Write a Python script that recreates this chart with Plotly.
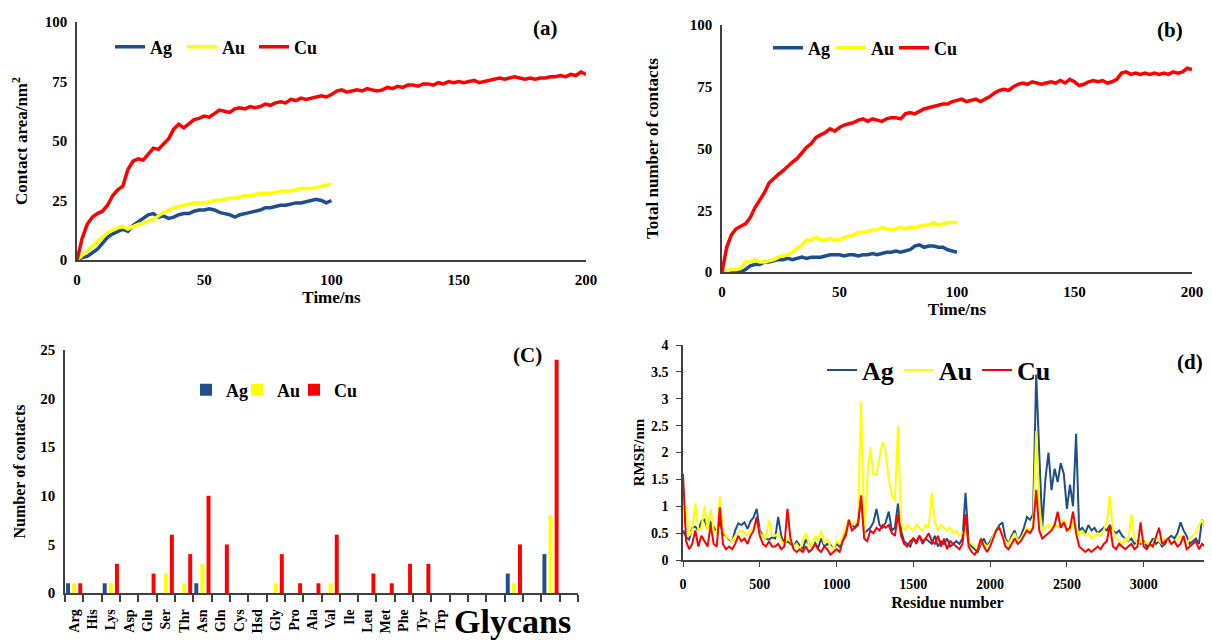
import plotly.graph_objects as go

# ---------------- data ----------------
metals = ["Ag", "Au", "Cu"]
colors = {"Ag": "#1f4e8c", "Au": "#ffff00", "Cu": "#ff0000"}

# (a) contact area / nm^2
t_100 = list(range(0, 101, 2))
t_200 = list(range(0, 201, 2))
area_ag = [0, 1, 1.5, 3, 4.5, 7, 9.5, 11, 12, 13,
           12, 14.5, 16, 17.5, 19, 19.5, 18, 18.5, 17.5, 18,
           19, 19.5, 19.5, 20.5, 21, 21, 21.5, 21, 20, 19.5,
           19, 18, 19, 19.5, 20, 20.5, 21, 22, 22, 22.5,
           23, 23, 23.5, 24, 24, 24.5, 25, 25.5, 25, 24,
           25]
area_au = [0, 2, 4, 5.5, 7.5, 10, 11.5, 12.5, 13.5, 14,
           13, 14, 15, 15.5, 16.5, 17, 18.5, 20, 21, 22,
           22.5, 23, 23.5, 24, 24, 24, 24.5, 25, 25, 25.5,
           26, 26, 26.5, 27, 27, 27.5, 28, 28, 28, 28.5,
           29, 29, 29, 29.5, 30, 30, 30, 30.5, 31, 31.5,
           32]
area_cu = [0, 9, 15, 18, 19.5, 20.5, 23, 27, 29.5, 31,
           38, 41.5, 42.5, 42, 44.5, 47, 46.5, 48.5, 51, 55,
           57, 55.5, 57.5, 59, 59.5, 60.5, 60, 61.5, 63, 62.5,
           62, 63.5, 64, 63.5, 64.5, 64, 64.5, 65.5, 65, 66,
           66.5, 66, 67.5, 67, 68, 67.5, 68, 68.5, 69, 68.5,
           69.5, 71, 71.5, 70.5, 71, 71.5, 71, 72, 71.5, 71,
           71.5, 72.5, 72, 73, 72.5, 73.5, 73.5, 73, 74, 74,
           73.5, 74.5, 74, 75, 74.5, 75, 74.5, 75, 75.5, 74.5,
           75, 75.5, 76, 76.5, 76, 76.5, 77, 76.5, 76, 76.5,
           76, 76.5, 76.5, 77, 77, 77.5, 77, 78, 77.5, 79,
           78]

# (b) total number of contacts
cont_ag = [0, 0, 0, 0, 0, 1, 2.5, 3, 3, 4,
           4, 4.5, 5, 5, 5.5, 5, 5.5, 6, 5.5, 6,
           6, 6, 6.5, 7, 7, 7, 6.5, 7, 7, 6.5,
           7, 7, 7.5, 7, 7.5, 8, 8, 8.5, 8, 8.5,
           9, 10.5, 11, 10, 10.5, 10.5, 10, 10, 9, 8.5,
           8]
cont_au = [0, 0.5, 1, 1, 1.5, 4, 4, 5, 4, 4,
           4.5, 5, 6, 6.5, 7, 8, 9.5, 11, 13, 13,
           14, 13, 13, 13.5, 13, 13, 14, 14.5, 15, 16,
           16, 16.5, 17, 17, 18, 17.5, 17, 17.5, 18, 17.5,
           18, 18, 18.5, 19, 19, 20, 19, 19.5, 20, 20,
           20]
cont_cu = [0, 10, 15, 17.5, 18.5, 19.5, 22, 26, 29, 32,
           36, 38, 39.5, 41, 43, 44.5, 46, 48.5, 50.5, 52,
           54.5, 55.5, 56.5, 58, 57, 58.5, 59.5, 60, 60.5, 61.5,
           62, 61, 62, 61.5, 61, 62, 62.5, 62.5, 62, 64,
           64.5, 64, 65, 66, 66.5, 67, 67.5, 68, 68, 69,
           69.5, 70, 69, 69.5, 70, 69, 70, 71, 72.5, 73.5,
           74, 73.5, 75, 76, 76.5, 76, 77, 76.5, 76, 76.5,
           77, 76.5, 77.5, 76.5, 78, 77, 75.5, 76, 77, 77.5,
           77, 77.5, 76.5, 77, 78, 80.5, 81, 80, 80.5, 80,
           80.5, 80, 80.5, 80, 80.5, 80, 81, 80.5, 81, 82.5,
           82]

# (c) number of contacts per residue type
residues = ["Arg", "His", "Lys", "Asp", "Glu", "Ser", "Thr", "Asn", "Gln", "Cys",
            "Hsd", "Gly", "Pro", "Ala", "Val", "Ile", "Leu", "Met", "Phe", "Tyr", "Trp"]
n_cat = 28  # 21 residues + 7 glycan slots
bar_ag = [1, 0, 1, 0, 0, 0, 0, 1, 0, 0, 0, 0, 0, 0, 0, 0, 0, 0, 0, 0, 0,
          0, 0, 0, 2, 0, 4, 0]
bar_au = [1, 0, 1, 0, 0, 2, 1, 3, 0, 0, 0, 1, 0, 0, 1, 0, 0, 0, 0, 0, 0,
          0, 0, 0, 1, 0, 8, 0]
bar_cu = [1, 0, 3, 0, 2, 6, 4, 10, 5, 0, 0, 4, 1, 1, 6, 0, 2, 1, 3, 3, 0,
          0, 0, 0, 5, 0, 24, 0]

# (d) RMSF / nm
residue_no = list(range(0, 3441, 20))
rmsf_ag = [0.55, 0.42, 0.38, 0.60, 0.62, 0.55, 0.72, 0.75, 0.58, 0.70,
           0.62, 0.50, 0.72, 0.48, 0.45, 0.38, 0.35, 0.55, 0.68, 0.65,
           0.70, 0.58, 0.72, 0.80, 0.95, 0.55, 0.45, 0.40, 0.38, 0.42,
           0.40, 0.80, 0.45, 0.30, 0.35, 0.30, 0.25, 0.35, 0.28, 0.20,
           0.38, 0.30, 0.25, 0.32, 0.22, 0.40, 0.25, 0.30, 0.28, 0.20,
           0.30, 0.25, 0.40, 0.55, 0.70, 0.65, 0.60, 0.65, 1.20, 0.50,
           0.55, 0.60, 0.70, 0.95, 0.65, 0.60, 0.70, 0.90, 0.55, 0.60,
           1.05, 0.55, 0.35, 0.30, 0.25, 0.40, 0.35, 0.45, 0.30, 0.40,
           0.35, 0.30, 0.45, 0.25, 0.35, 0.30, 0.40, 0.25, 0.30, 0.35,
           0.30, 0.40, 1.25, 0.35, 0.25, 0.20, 0.15, 0.30, 0.40, 0.25,
           0.35, 0.45, 0.55, 0.65, 0.70, 0.40, 0.30, 0.45, 0.55, 0.35,
           0.45, 0.60, 0.80, 0.75, 0.85, 3.45, 2.00, 0.60, 1.50, 2.00,
           1.30, 1.70, 1.45, 1.80, 1.60, 0.95, 1.40, 1.00, 2.35, 0.55,
           0.60, 0.50, 0.65, 0.55, 0.60, 0.50, 0.55, 0.60, 0.55, 0.65,
           0.55, 0.50, 0.55, 0.45, 0.40, 0.35, 0.40, 0.30, 0.35, 0.30,
           0.35, 0.25, 0.30, 0.40, 0.30, 0.35, 0.25, 0.30, 0.40, 0.45,
           0.40, 0.50, 0.70, 0.55, 0.45, 0.30, 0.35, 0.40, 0.30, 0.75,
           0.60, 0.75, 1.20]
rmsf_au = [0.60, 1.00, 0.45, 0.55, 1.05, 0.55, 0.60, 1.00, 0.55, 0.95,
           0.55, 0.50, 1.18, 0.55, 0.45, 0.40, 0.35, 0.45, 0.50, 0.55,
           0.50, 0.45, 0.55, 0.60, 0.75, 0.50, 0.45, 0.40, 0.75, 0.45,
           0.45, 0.50, 0.35, 0.30, 0.40, 0.35, 0.25, 0.30, 0.20, 0.35,
           0.50, 0.30, 0.25, 0.45, 0.35, 0.55, 0.30, 0.40, 0.25, 0.20,
           0.35, 0.30, 0.45, 0.60, 0.75, 0.65, 0.70, 0.75, 2.95, 0.40,
           1.50, 2.10, 1.60, 1.60, 1.90, 2.20, 2.00, 1.50, 1.20, 1.10,
           2.50, 0.70, 0.55, 0.65, 0.60, 0.55, 0.65, 0.60, 0.55, 0.65,
           0.60, 1.25, 0.70, 0.55, 0.65, 0.60, 0.55, 0.60, 0.50, 0.55,
           0.45, 0.50, 0.60, 0.35, 0.30, 0.25, 0.20, 0.35, 0.30, 0.25,
           0.30, 0.45, 0.55, 0.60, 0.45, 0.35, 0.30, 0.40, 0.50, 0.35,
           0.40, 0.50, 0.60, 0.55, 0.60, 2.40, 1.00, 0.55, 0.60, 0.65,
           0.55, 0.70, 0.60, 0.65, 0.75, 0.60, 0.55, 0.70, 0.65, 0.45,
           0.55, 0.45, 0.50, 0.40, 0.45, 0.50, 0.45, 0.55, 0.70, 1.20,
           0.55, 0.40, 0.35, 0.30, 0.40, 0.35, 0.85, 0.40, 0.30, 0.35,
           0.30, 0.35, 0.25, 0.30, 0.45, 0.35, 0.30, 0.40, 0.35, 0.30,
           0.35, 0.40, 0.45, 0.35, 0.30, 0.40, 0.45, 0.50, 0.65, 0.75,
           0.55, 0.60, 0.80]
rmsf_cu = [1.60, 0.35, 0.20, 0.30, 0.55, 0.25, 0.45, 0.35, 0.25, 0.65,
           0.30, 0.25, 0.98, 0.30, 0.20, 0.25, 0.20, 0.30, 0.45, 0.35,
           0.40, 0.30, 0.45, 0.55, 0.80, 0.45, 0.30, 0.25, 0.35, 0.25,
           0.25, 0.30, 0.20, 0.25, 0.95, 0.40, 0.20, 0.15, 0.20, 0.15,
           0.25, 0.15, 0.20, 0.30, 0.20, 0.15, 0.25, 0.20, 0.10, 0.15,
           0.20, 0.15, 0.35, 0.45, 0.75, 0.55, 0.60, 0.70, 1.20, 0.40,
           0.35, 0.55, 0.50, 0.60, 0.55, 0.65, 0.60, 0.65, 0.50, 0.45,
           0.85, 0.45, 0.30, 0.25, 0.35, 0.40, 0.30, 0.45, 0.35, 0.40,
           0.50, 0.35, 0.30, 0.45, 0.25, 0.40, 0.20, 0.35, 0.30, 0.25,
           0.20, 0.30, 0.85, 0.25, 0.15, 0.10, 0.20, 0.40, 0.25, 0.15,
           0.25, 0.40, 0.55, 0.60, 0.45, 0.25, 0.20, 0.30, 0.40, 0.30,
           0.35, 0.45, 0.55, 0.50, 0.60, 1.30, 0.55, 0.40, 0.45, 0.50,
           0.55, 0.65, 0.90, 0.60, 0.70, 0.55, 0.60, 0.90, 0.50, 0.25,
           0.20, 0.15, 0.20, 0.15, 0.20, 0.25, 0.20, 0.30, 0.35, 0.65,
           0.25, 0.20, 0.30, 0.25, 0.20, 0.25, 0.30, 0.20, 0.25, 0.70,
           0.25, 0.20, 0.30, 0.25, 0.45, 0.60, 0.30, 0.35, 0.40, 0.30,
           0.35, 0.25, 0.30, 0.45, 0.20, 0.25, 0.30, 0.35, 0.20, 0.30,
           0.25, 0.30, 0.80]

# ---------------- layout helpers ----------------
W, H = 1212, 640
OFF = 8  # the page body adds an 8px margin, so positions below are page pixels minus that
SERIF = "Liberation Serif, Times New Roman, serif"
AXIS_COLOR = "#404040"


def px(x):
    return (x - OFF) / W


def py(y):
    return 1 - (y - OFF) / H


def xd(left, right):
    return [px(left), px(right)]


def yd(top, bottom):
    return [py(bottom), py(top)]


def bold(size):
    return dict(family=SERIF, size=size, color="black", weight="bold")


def axis_style(**kw):
    base = dict(showline=True, linecolor=AXIS_COLOR, linewidth=1.5, showgrid=False,
                zeroline=False, ticks="", tickfont=bold(15), ticklabelstandoff=5,
                automargin=False)
    base.update(kw)
    return base


def label(text, x, y, size=21):
    return dict(text=text, x=px(x), y=py(y), xref="paper", yref="paper", showarrow=False,
                xanchor="center", yanchor="middle", font=bold(size))


fig = go.Figure()

# (a)
for m, y in zip(metals, [area_ag, area_au, area_cu]):
    fig.add_trace(go.Scatter(x=t_200 if m == "Cu" else t_100, y=y, name=m, mode="lines",
                             line=dict(color=colors[m], width=3.5), legend="legend",
                             xaxis="x", yaxis="y"))
# (b)
for m, y in zip(metals, [cont_ag, cont_au, cont_cu]):
    fig.add_trace(go.Scatter(x=t_200 if m == "Cu" else t_100, y=y, name=m, mode="lines",
                             line=dict(color=colors[m], width=3.5), legend="legend2",
                             xaxis="x2", yaxis="y2"))
# (c) -- one legend box per item so the entries can sit closer together
cats = list(range(n_cat))
bar_legends = {"Ag": "legend3", "Au": "legend5", "Cu": "legend6"}
for m, y in zip(metals, [bar_ag, bar_au, bar_cu]):
    fig.add_trace(go.Bar(x=cats, y=y, name=m, marker=dict(color=colors[m], line=dict(width=0)),
                         legend=bar_legends[m], xaxis="x3", yaxis="y3"))
# (d)
for m, y in zip(metals, [rmsf_ag, rmsf_au, rmsf_cu]):
    fig.add_trace(go.Scatter(x=residue_no, y=y, name=m, mode="lines",
                             line=dict(color=colors[m], width=2), legend="legend4",
                             xaxis="x4", yaxis="y4"))

legend_common = dict(orientation="h", bgcolor="rgba(0,0,0,0)", yanchor="middle",
                     xanchor="left", itemwidth=30, tracegroupgap=0)

fig.update_layout(
    width=W, height=H,
    margin=dict(l=0, r=0, t=0, b=0, autoexpand=False),
    paper_bgcolor="white", plot_bgcolor="white",
    font=dict(family=SERIF, color="black"),
    barmode="group", bargap=0.0, bargroupgap=0.35,
    # (a)
    xaxis=axis_style(domain=xd(77, 586), anchor="y", range=[0, 200], tickvals=[0, 50, 100, 150, 200],
                     title=dict(text="Time/ns", font=bold(17), standoff=2)),
    yaxis=axis_style(domain=yd(22, 260), anchor="x", range=[0, 100], tickvals=[0, 25, 50, 75, 100],
                     title=dict(text="Contact area/nm<sup>2</sup>", font=bold(17), standoff=13)),
    # (b)
    xaxis2=axis_style(domain=xd(722, 1192), anchor="y2", range=[0, 200], tickvals=[0, 50, 100, 150, 200],
                      title=dict(text="Time/ns", font=bold(17), standoff=2)),
    yaxis2=axis_style(domain=yd(25, 272), anchor="x2", range=[0, 100], tickvals=[0, 25, 50, 75, 100],
                      title=dict(text="Total number of contacts", font=bold(17), standoff=27)),
    # (c)
    xaxis3=axis_style(domain=xd(65, 578), anchor="y3", range=[-0.5, n_cat - 0.5],
                      tickvals=list(range(len(residues))), ticktext=residues, tickangle=-90,
                      tickfont=bold(14), ticklabelstandoff=9,
                      minor=dict(tick0=-0.5, dtick=1, ticks="outside", ticklen=7,
                                 tickcolor=AXIS_COLOR, tickwidth=1.5)),
    yaxis3=axis_style(domain=yd(350, 593), anchor="x3", range=[0, 25], tickvals=[0, 5, 10, 15, 20, 25],
                      title=dict(text="Number of contacts", font=bold(16), standoff=11)),
    # (d)
    xaxis4=axis_style(domain=xd(683, 1212), anchor="y4", range=[0, 3445],
                      tickvals=[0, 500, 1000, 1500, 2000, 2500, 3000], ticks="outside", ticklen=5,
                      tickcolor=AXIS_COLOR, tickfont=bold(14),
                      title=dict(text="Residue number", font=bold(16), standoff=6)),
    yaxis4=axis_style(domain=yd(345, 560), anchor="x4", range=[0, 4],
                      tickvals=[0, 0.5, 1, 1.5, 2, 2.5, 3, 3.5, 4], ticks="outside", ticklen=5,
                      tickcolor=AXIS_COLOR, tickfont=bold(14),
                      title=dict(text="RMSF/nm", font=bold(15), standoff=3)),
    legend=dict(legend_common, x=px(110), y=py(47), font=bold(18), entrywidth=27),
    legend2=dict(legend_common, x=px(768), y=py(48), font=bold(18), entrywidth=18),
    legend3=dict(legend_common, x=px(186), y=py(390), font=bold(18)),
    legend5=dict(legend_common, x=px(237), y=py(390), font=bold(18)),
    legend6=dict(legend_common, x=px(294), y=py(390), font=bold(18)),
    legend4=dict(legend_common, x=px(822), y=py(370), font=bold(26)),
    annotations=[
        label("(a)", 545, 28),
        label("(b)", 1170, 30),
        label("(C)", 527, 355),
        label("(d)", 1190, 362),
        label("Glycans", 512, 621, 34),
    ],
)

fig.write_html("out.html")
